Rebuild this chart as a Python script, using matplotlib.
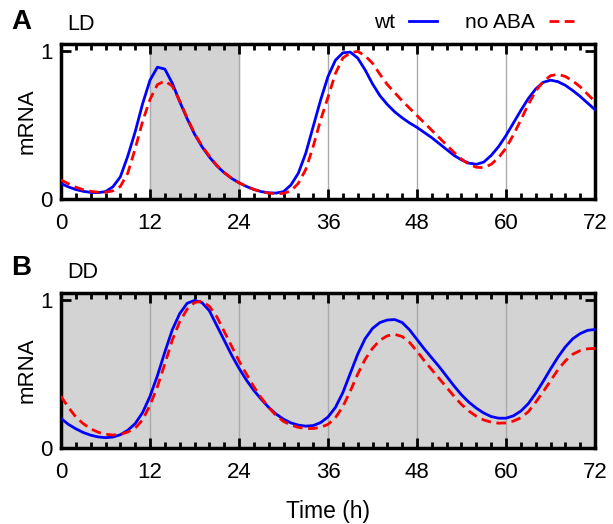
import matplotlib
matplotlib.use("Agg")
import matplotlib.pyplot as plt
import numpy as np

plt.rcParams['font.family'] = ['Liberation Sans', 'DejaVu Sans']

# time in hours
t = np.arange(0, 73, 1)

# panel A, light/dark cycles
wt_ld = [0.105, 0.082, 0.064, 0.052, 0.045, 0.043, 0.05, 0.083, 0.15, 0.29,
         0.455, 0.645, 0.805, 0.893, 0.88, 0.785, 0.66, 0.545, 0.44, 0.355,
         0.285, 0.225, 0.178, 0.14, 0.11, 0.085, 0.065, 0.05, 0.042, 0.04,
         0.05, 0.095, 0.175, 0.31, 0.49, 0.67, 0.83, 0.94, 0.99, 0.995,
         0.955, 0.875, 0.78, 0.70, 0.64, 0.59, 0.55, 0.515, 0.485, 0.45,
         0.415, 0.375, 0.335, 0.295, 0.265, 0.243, 0.235, 0.25, 0.295, 0.355,
         0.43, 0.515, 0.60, 0.68, 0.745, 0.79, 0.805, 0.795, 0.77, 0.735,
         0.695, 0.65, 0.605]
noaba_ld = [0.13, 0.103, 0.08, 0.063, 0.052, 0.046, 0.046, 0.055, 0.085, 0.175,
            0.34, 0.525, 0.675, 0.775, 0.80, 0.765, 0.665, 0.55, 0.445, 0.36,
            0.29, 0.228, 0.18, 0.14, 0.11, 0.085, 0.065, 0.05, 0.04, 0.036,
            0.038, 0.055, 0.106, 0.20, 0.355, 0.535, 0.69, 0.85, 0.955, 0.99,
            1.0, 0.97, 0.92, 0.845, 0.775, 0.72, 0.665, 0.615, 0.565, 0.515,
            0.465, 0.415, 0.365, 0.315, 0.27, 0.235, 0.215, 0.212, 0.235, 0.28,
            0.345, 0.435, 0.535, 0.64, 0.73, 0.795, 0.835, 0.845, 0.83, 0.80,
            0.76, 0.71, 0.66]

# panel B, constant darkness
wt_dd = [0.20, 0.16, 0.13, 0.105, 0.087, 0.075, 0.07, 0.074, 0.09, 0.12,
         0.165, 0.24, 0.35, 0.49, 0.65, 0.80, 0.91, 0.98, 1.0, 0.985,
         0.93, 0.83, 0.73, 0.63, 0.54, 0.46, 0.39, 0.33, 0.275, 0.23,
         0.195, 0.17, 0.155, 0.148, 0.152, 0.172, 0.21, 0.275, 0.375, 0.505,
         0.635, 0.74, 0.81, 0.85, 0.867, 0.87, 0.85, 0.80, 0.735, 0.67,
         0.61, 0.55, 0.485, 0.42, 0.36, 0.31, 0.27, 0.237, 0.213, 0.202,
         0.202, 0.218, 0.25, 0.30, 0.37, 0.45, 0.535, 0.615, 0.685, 0.74,
         0.775, 0.797, 0.803]
noaba_dd = [0.35, 0.275, 0.21, 0.165, 0.13, 0.107, 0.093, 0.088, 0.092, 0.108,
            0.135, 0.19, 0.29, 0.415, 0.57, 0.73, 0.855, 0.94, 0.985, 0.995,
            0.96, 0.89, 0.79, 0.69, 0.59, 0.50, 0.415, 0.34, 0.275, 0.22,
            0.18, 0.155, 0.14, 0.132, 0.132, 0.14, 0.16, 0.205, 0.28, 0.385,
            0.50, 0.60, 0.675, 0.73, 0.76, 0.77, 0.755, 0.715, 0.655, 0.59,
            0.53, 0.47, 0.41, 0.35, 0.295, 0.25, 0.215, 0.19, 0.175, 0.168,
            0.17, 0.182, 0.205, 0.245, 0.31, 0.38, 0.455, 0.53, 0.59, 0.635,
            0.66, 0.672, 0.675]

xticks = [0, 12, 24, 36, 48, 60, 72]
grey = '#d3d3d3'
dash = (0, (3.5, 2))

fig = plt.figure(figsize=(6.13, 5.24), dpi=100)
axA = fig.add_axes([61/613, 1-199/524, 534/613, 155/524])
axB = fig.add_axes([61/613, 1-448/524, 534/613, 155/524])


def style(ax):
    ax.set_xlim(0, 72)
    ax.set_ylim(0, 1.05)
    ax.set_xticks(xticks)
    ax.set_xticks(np.arange(0, 73, 2), minor=True)
    ax.set_yticks([0, 1])
    ax.tick_params(which='both', direction='in', top=True, right=True,
                   width=2, labelsize=16, pad=6)
    ax.tick_params(axis='x', pad=10)
    ax.tick_params(which='major', length=7)
    ax.tick_params(which='minor', length=4)
    ax.tick_params(axis='y', which='minor', left=False, right=False)
    for s in ax.spines.values():
        s.set_linewidth(2.5)
    ax.set_ylabel('mRNA', fontsize=16, labelpad=2)


# panel A
axA.axvspan(12, 24, color=grey, zorder=0)
for x in [12, 24, 36, 48, 60]:
    axA.axvline(x, color='#aaaaaa', lw=1, zorder=1)
axA.plot(t, wt_ld, color='#0000ff', lw=2, label='wt', zorder=3)
axA.plot(t, noaba_ld, color='#ff0000', lw=2, ls=dash, label='no ABA', zorder=3)
style(axA)
fig.legend(*axA.get_legend_handles_labels(), loc='center right',
           bbox_to_anchor=(577/613, 1-23/524), ncol=2, frameon=False,
           markerfirst=False, fontsize=15, handlelength=1.35, columnspacing=1.35,
           handletextpad=0.67, borderaxespad=0, borderpad=0)

# panel B
axB.set_facecolor(grey)
for x in [12, 24, 36, 48, 60]:
    axB.axvline(x, color='#aaaaaa', lw=1, zorder=1)
axB.plot(t, wt_dd, color='#0000ff', lw=2, zorder=3)
axB.plot(t, noaba_dd, color='#ff0000', lw=2, ls=dash, zorder=3)
style(axB)
axB.set_xlabel('Time (h)', fontsize=16.5, labelpad=12)

fig.text(11/613, 1-22/524, 'A', fontsize=20, fontweight='bold', va='center')
fig.text(67/613, 1-25/524, 'LD', fontsize=15.5, va='center')
fig.text(11/613, 1-268/524, 'B', fontsize=20, fontweight='bold', va='center')
fig.text(67/613, 1-272/524, 'DD', fontsize=15.5, va='center')

fig.savefig('out.png', dpi=100)
